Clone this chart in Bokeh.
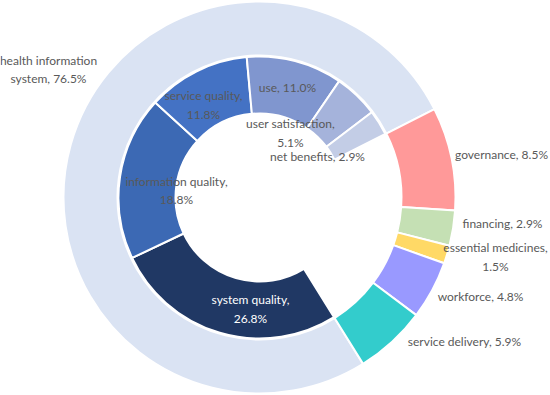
import math
from bokeh.plotting import figure
from bokeh.models import ColumnDataSource, Range1d
from bokeh.core.properties import value
from bokeh.embed import file_html
from bokeh.resources import INLINE

# ---- data ----
outer_names = ["health information system", "governance", "financing",
               "essential medicines", "workforce", "service delivery"]
outer_values = [76.5, 8.5, 2.9, 1.5, 4.8, 5.9]

inner_names = ["system quality", "information quality", "service quality",
               "use", "user satisfaction", "net benefits"]
inner_values = [26.8, 18.8, 11.8, 11.0, 5.1, 2.9]

# ---- styles / layout ----
W, H = 550, 395
CX, CY_SCREEN = 259, 197
START_CLOCK = 148.1  # degrees clockwise from 12 o'clock
R_HOLE, R_IN_OUT = 84, 141
R_OUT_IN, R_OUT_OUT = 142, 196

outer_colors = ["#DAE3F3", "#FF9999", "#C5E0B4", "#FFD966", "#9999FF", "#33CCCC"]
inner_colors = ["#203864", "#3C69B4", "#4472C4", "#8096CF", "#A5B3DB", "#C3CDE6"]

outer_label_text = ["health information\nsystem, 76.5%", "governance, 8.5%", "financing, 2.9%",
                    "essential medicines,\n1.5%", "workforce, 4.8%", "service delivery, 5.9%"]
inner_label_text = ["system quality,\n26.8%", "information quality,\n18.8%", "service quality,\n11.8%",
                    "use, 11.0%", "user satisfaction,\n5.1%", "net benefits, 2.9%"]
# label anchors in screen pixels (layout)
outer_label_xy = [(48, 69), (501, 154), (502, 223), (495, 256.5), (480, 296), (464, 341)]
inner_label_xy = [(250, 308.5), (176, 190), (203, 104.5), (287, 87), (290, 132.5), (317, 156)]
inner_label_colors = ["#FFFFFF", "#595959", "#595959", "#595959", "#595959", "#595959"]

CY = H - CY_SCREEN


def wedges(values, span_deg, start_clock):
    total = sum(values)
    starts, ends = [], []
    c = start_clock
    for v in values:
        a = v / total * span_deg
        c0, c1 = c, c + a
        # clockwise clock-angle [c0,c1] -> anticlockwise math angles
        starts.append(math.radians(90 - c1))
        ends.append(math.radians(90 - c0))
        c = c1
    return starts, ends


o_start, o_end = wedges(outer_values, 360.0, START_CLOCK)
his_span = outer_values[0] / sum(outer_values) * 360.0
i_start, i_end = wedges(inner_values, his_span, START_CLOCK)

p = figure(width=W, height=H, output_backend="svg", toolbar_location=None,
           x_range=Range1d(0, W), y_range=Range1d(0, H),
           min_border=0, outline_line_color=None)
p.axis.visible = False
p.xgrid.visible = False
p.ygrid.visible = False
p.background_fill_color = "white"
p.border_fill_color = "white"

osrc = ColumnDataSource(dict(name=outer_names, v=outer_values, s=o_start, e=o_end, c=outer_colors))
p.annular_wedge(x=CX, y=CY, inner_radius=R_OUT_IN, outer_radius=R_OUT_OUT,
                start_angle="s", end_angle="e", direction="anticlock",
                fill_color="c", line_color="white", line_width=2, source=osrc)

isrc = ColumnDataSource(dict(name=inner_names, v=inner_values, s=i_start, e=i_end, c=inner_colors))
p.annular_wedge(x=CX, y=CY, inner_radius=R_HOLE, outer_radius=R_IN_OUT,
                start_angle="s", end_angle="e", direction="anticlock",
                fill_color="c", line_color="white", line_width=2, source=isrc)

lx = [xy[0] for xy in outer_label_xy] + [xy[0] for xy in inner_label_xy]
ly = [H - xy[1] for xy in outer_label_xy] + [H - xy[1] for xy in inner_label_xy]
lt = outer_label_text + inner_label_text
lc = ["#595959"] * len(outer_label_text) + inner_label_colors
lsrc = ColumnDataSource(dict(x=lx, y=ly, t=lt, c=lc))
p.text(x="x", y="y", text="t", text_color="c", source=lsrc,
       text_font=value("Lato"), text_font_size="12px",
       text_align="center", text_baseline="middle", text_line_height=1.25)

open("out.html", "w").write(file_html(p, INLINE))
